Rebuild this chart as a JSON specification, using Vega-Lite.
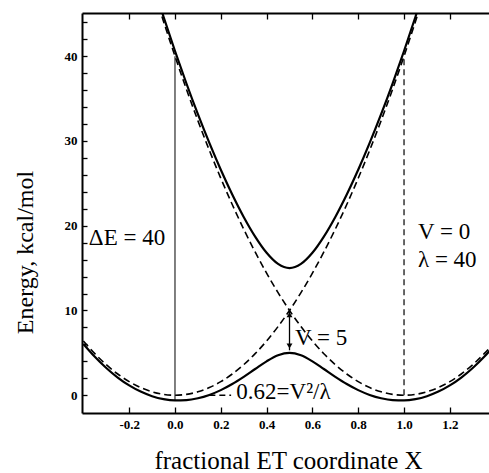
{
  "$schema": "https://vega.github.io/schema/vega-lite/v6.json",
  "width": 407,
  "height": 400,
  "autosize": {"type": "none"},
  "padding": {"left": 82, "top": 13, "right": 0, "bottom": 60},
  "background": "white",
  "config": {
    "view": {"stroke": null},
    "axis": {
      "grid": false,
      "labelFont": "Liberation Serif",
      "labelFontWeight": "bold",
      "labelFontSize": 13,
      "labelColor": "black",
      "domainColor": "black",
      "domainWidth": 2,
      "tickColor": "black",
      "tickWidth": 1.3,
      "titleFont": "Liberation Serif",
      "titleFontWeight": "normal",
      "titleColor": "black"
    }
  },
  "datasets": {
    "curves": [
      {"curve": "lower", "kind": "adiabatic", "x": -0.4, "y": 6.054},
      {"curve": "lower", "kind": "adiabatic", "x": -0.35, "y": 4.534},
      {"curve": "lower", "kind": "adiabatic", "x": -0.3, "y": 3.212},
      {"curve": "lower", "kind": "adiabatic", "x": -0.25, "y": 2.086},
      {"curve": "lower", "kind": "adiabatic", "x": -0.2, "y": 1.157},
      {"curve": "lower", "kind": "adiabatic", "x": -0.15, "y": 0.424},
      {"curve": "lower", "kind": "adiabatic", "x": -0.1, "y": -0.115},
      {"curve": "lower", "kind": "adiabatic", "x": -0.05, "y": -0.461},
      {"curve": "lower", "kind": "adiabatic", "x": 0, "y": -0.616},
      {"curve": "lower", "kind": "adiabatic", "x": 0.05, "y": -0.582},
      {"curve": "lower", "kind": "adiabatic", "x": 0.1, "y": -0.363},
      {"curve": "lower", "kind": "adiabatic", "x": 0.15, "y": 0.034},
      {"curve": "lower", "kind": "adiabatic", "x": 0.2, "y": 0.6},
      {"curve": "lower", "kind": "adiabatic", "x": 0.25, "y": 1.32},
      {"curve": "lower", "kind": "adiabatic", "x": 0.3, "y": 2.166},
      {"curve": "lower", "kind": "adiabatic", "x": 0.35, "y": 3.09},
      {"curve": "lower", "kind": "adiabatic", "x": 0.4, "y": 3.997},
      {"curve": "lower", "kind": "adiabatic", "x": 0.45, "y": 4.715},
      {"curve": "lower", "kind": "adiabatic", "x": 0.5, "y": 5},
      {"curve": "lower", "kind": "adiabatic", "x": 0.55, "y": 4.715},
      {"curve": "lower", "kind": "adiabatic", "x": 0.6, "y": 3.997},
      {"curve": "lower", "kind": "adiabatic", "x": 0.65, "y": 3.09},
      {"curve": "lower", "kind": "adiabatic", "x": 0.7, "y": 2.166},
      {"curve": "lower", "kind": "adiabatic", "x": 0.75, "y": 1.32},
      {"curve": "lower", "kind": "adiabatic", "x": 0.8, "y": 0.6},
      {"curve": "lower", "kind": "adiabatic", "x": 0.85, "y": 0.034},
      {"curve": "lower", "kind": "adiabatic", "x": 0.9, "y": -0.363},
      {"curve": "lower", "kind": "adiabatic", "x": 0.95, "y": -0.582},
      {"curve": "lower", "kind": "adiabatic", "x": 1, "y": -0.616},
      {"curve": "lower", "kind": "adiabatic", "x": 1.05, "y": -0.461},
      {"curve": "lower", "kind": "adiabatic", "x": 1.1, "y": -0.115},
      {"curve": "lower", "kind": "adiabatic", "x": 1.15, "y": 0.424},
      {"curve": "lower", "kind": "adiabatic", "x": 1.2, "y": 1.157},
      {"curve": "lower", "kind": "adiabatic", "x": 1.25, "y": 2.086},
      {"curve": "lower", "kind": "adiabatic", "x": 1.3, "y": 3.212},
      {"curve": "lower", "kind": "adiabatic", "x": 1.35, "y": 4.534},
      {"curve": "lower", "kind": "adiabatic", "x": 1.4, "y": 6.054},
      {"curve": "upper", "kind": "adiabatic", "x": -0.15, "y": 53.38},
      {"curve": "upper", "kind": "adiabatic", "x": -0.1, "y": 48.92},
      {"curve": "upper", "kind": "adiabatic", "x": -0.05, "y": 44.66},
      {"curve": "upper", "kind": "adiabatic", "x": 0, "y": 40.616},
      {"curve": "upper", "kind": "adiabatic", "x": 0.05, "y": 36.78},
      {"curve": "upper", "kind": "adiabatic", "x": 0.1, "y": 33.16},
      {"curve": "upper", "kind": "adiabatic", "x": 0.15, "y": 29.77},
      {"curve": "upper", "kind": "adiabatic", "x": 0.2, "y": 26.6},
      {"curve": "upper", "kind": "adiabatic", "x": 0.25, "y": 23.68},
      {"curve": "upper", "kind": "adiabatic", "x": 0.3, "y": 21.03},
      {"curve": "upper", "kind": "adiabatic", "x": 0.35, "y": 18.71},
      {"curve": "upper", "kind": "adiabatic", "x": 0.4, "y": 16.8},
      {"curve": "upper", "kind": "adiabatic", "x": 0.45, "y": 15.49},
      {"curve": "upper", "kind": "adiabatic", "x": 0.5, "y": 15},
      {"curve": "upper", "kind": "adiabatic", "x": 0.55, "y": 15.49},
      {"curve": "upper", "kind": "adiabatic", "x": 0.6, "y": 16.8},
      {"curve": "upper", "kind": "adiabatic", "x": 0.65, "y": 18.71},
      {"curve": "upper", "kind": "adiabatic", "x": 0.7, "y": 21.03},
      {"curve": "upper", "kind": "adiabatic", "x": 0.75, "y": 23.68},
      {"curve": "upper", "kind": "adiabatic", "x": 0.8, "y": 26.6},
      {"curve": "upper", "kind": "adiabatic", "x": 0.85, "y": 29.77},
      {"curve": "upper", "kind": "adiabatic", "x": 0.9, "y": 33.16},
      {"curve": "upper", "kind": "adiabatic", "x": 0.95, "y": 36.78},
      {"curve": "upper", "kind": "adiabatic", "x": 1, "y": 40.616},
      {"curve": "upper", "kind": "adiabatic", "x": 1.05, "y": 44.66},
      {"curve": "upper", "kind": "adiabatic", "x": 1.1, "y": 48.92},
      {"curve": "upper", "kind": "adiabatic", "x": 1.15, "y": 53.38},
      {"curve": "reactant", "kind": "diabatic", "x": -0.4, "y": 6.4},
      {"curve": "reactant", "kind": "diabatic", "x": -0.35, "y": 4.9},
      {"curve": "reactant", "kind": "diabatic", "x": -0.3, "y": 3.6},
      {"curve": "reactant", "kind": "diabatic", "x": -0.25, "y": 2.5},
      {"curve": "reactant", "kind": "diabatic", "x": -0.2, "y": 1.6},
      {"curve": "reactant", "kind": "diabatic", "x": -0.15, "y": 0.9},
      {"curve": "reactant", "kind": "diabatic", "x": -0.1, "y": 0.4},
      {"curve": "reactant", "kind": "diabatic", "x": -0.05, "y": 0.1},
      {"curve": "reactant", "kind": "diabatic", "x": 0, "y": 0},
      {"curve": "reactant", "kind": "diabatic", "x": 0.05, "y": 0.1},
      {"curve": "reactant", "kind": "diabatic", "x": 0.1, "y": 0.4},
      {"curve": "reactant", "kind": "diabatic", "x": 0.15, "y": 0.9},
      {"curve": "reactant", "kind": "diabatic", "x": 0.2, "y": 1.6},
      {"curve": "reactant", "kind": "diabatic", "x": 0.25, "y": 2.5},
      {"curve": "reactant", "kind": "diabatic", "x": 0.3, "y": 3.6},
      {"curve": "reactant", "kind": "diabatic", "x": 0.35, "y": 4.9},
      {"curve": "reactant", "kind": "diabatic", "x": 0.4, "y": 6.4},
      {"curve": "reactant", "kind": "diabatic", "x": 0.45, "y": 8.1},
      {"curve": "reactant", "kind": "diabatic", "x": 0.5, "y": 10},
      {"curve": "reactant", "kind": "diabatic", "x": 0.55, "y": 12.1},
      {"curve": "reactant", "kind": "diabatic", "x": 0.6, "y": 14.4},
      {"curve": "reactant", "kind": "diabatic", "x": 0.65, "y": 16.9},
      {"curve": "reactant", "kind": "diabatic", "x": 0.7, "y": 19.6},
      {"curve": "reactant", "kind": "diabatic", "x": 0.75, "y": 22.5},
      {"curve": "reactant", "kind": "diabatic", "x": 0.8, "y": 25.6},
      {"curve": "reactant", "kind": "diabatic", "x": 0.85, "y": 28.9},
      {"curve": "reactant", "kind": "diabatic", "x": 0.9, "y": 32.4},
      {"curve": "reactant", "kind": "diabatic", "x": 0.95, "y": 36.1},
      {"curve": "reactant", "kind": "diabatic", "x": 1, "y": 40},
      {"curve": "reactant", "kind": "diabatic", "x": 1.05, "y": 44.1},
      {"curve": "reactant", "kind": "diabatic", "x": 1.1, "y": 48.4},
      {"curve": "product", "kind": "diabatic", "x": -0.1, "y": 48.4},
      {"curve": "product", "kind": "diabatic", "x": -0.05, "y": 44.1},
      {"curve": "product", "kind": "diabatic", "x": 0, "y": 40},
      {"curve": "product", "kind": "diabatic", "x": 0.05, "y": 36.1},
      {"curve": "product", "kind": "diabatic", "x": 0.1, "y": 32.4},
      {"curve": "product", "kind": "diabatic", "x": 0.15, "y": 28.9},
      {"curve": "product", "kind": "diabatic", "x": 0.2, "y": 25.6},
      {"curve": "product", "kind": "diabatic", "x": 0.25, "y": 22.5},
      {"curve": "product", "kind": "diabatic", "x": 0.3, "y": 19.6},
      {"curve": "product", "kind": "diabatic", "x": 0.35, "y": 16.9},
      {"curve": "product", "kind": "diabatic", "x": 0.4, "y": 14.4},
      {"curve": "product", "kind": "diabatic", "x": 0.45, "y": 12.1},
      {"curve": "product", "kind": "diabatic", "x": 0.5, "y": 10},
      {"curve": "product", "kind": "diabatic", "x": 0.55, "y": 8.1},
      {"curve": "product", "kind": "diabatic", "x": 0.6, "y": 6.4},
      {"curve": "product", "kind": "diabatic", "x": 0.65, "y": 4.9},
      {"curve": "product", "kind": "diabatic", "x": 0.7, "y": 3.6},
      {"curve": "product", "kind": "diabatic", "x": 0.75, "y": 2.5},
      {"curve": "product", "kind": "diabatic", "x": 0.8, "y": 1.6},
      {"curve": "product", "kind": "diabatic", "x": 0.85, "y": 0.9},
      {"curve": "product", "kind": "diabatic", "x": 0.9, "y": 0.4},
      {"curve": "product", "kind": "diabatic", "x": 0.95, "y": 0.1},
      {"curve": "product", "kind": "diabatic", "x": 1, "y": 0},
      {"curve": "product", "kind": "diabatic", "x": 1.05, "y": 0.1},
      {"curve": "product", "kind": "diabatic", "x": 1.1, "y": 0.4},
      {"curve": "product", "kind": "diabatic", "x": 1.15, "y": 0.9},
      {"curve": "product", "kind": "diabatic", "x": 1.2, "y": 1.6},
      {"curve": "product", "kind": "diabatic", "x": 1.25, "y": 2.5},
      {"curve": "product", "kind": "diabatic", "x": 1.3, "y": 3.6},
      {"curve": "product", "kind": "diabatic", "x": 1.35, "y": 4.9},
      {"curve": "product", "kind": "diabatic", "x": 1.4, "y": 6.4}
    ]
  },
  "resolve": {"axis": {"x": "independent", "y": "independent"}},
  "layer": [
    {
      "data": {"name": "curves"},
      "transform": [{"filter": "datum.kind === 'diabatic'"}],
      "mark": {"type": "line", "clip": true, "interpolate": "monotone", "color": "black", "strokeWidth": 1.6, "strokeDash": [7, 4]},
      "encoding": {
        "x": {"field": "x", "type": "quantitative",
          "scale": {"domain": [-0.406, 1.371], "nice": false, "zero": false},
          "axis": {"orient": "bottom", "values": [-0.2, 0, 0.2, 0.4, 0.6, 0.8, 1.0, 1.2],
            "labelExpr": "replace(format(datum.value, '.1f'), '\u2212', '-')",
            "tickSize": -6, "labelPadding": 11,
            "title": "fractional ET coordinate X", "titleFontSize": 25,
            "titleX": 206, "titleY": 47, "titleBaseline": "middle", "titleAnchor": null}},
        "y": {"field": "y", "type": "quantitative",
          "scale": {"domain": [-2.1, 45.1], "nice": false, "zero": false},
          "axis": {"orient": "left", "values": [0, 2, 4, 6, 8, 10, 12, 14, 16, 18, 20, 22, 24, 26, 28, 30, 32, 34, 36, 38, 40, 42, 44],
            "labelExpr": "datum.value % 10 === 0 ? datum.label : ''",
            "tickSize": -5, "labelPadding": 10,
            "title": "Energy, kcal/mol", "titleFontSize": 24,
            "titleX": -57, "titleY": 239, "titleBaseline": "middle", "titleAnchor": null}},
        "detail": {"field": "curve"}
      }
    },
    {
      "data": {"name": "curves"},
      "transform": [{"filter": "datum.kind === 'adiabatic'"}],
      "mark": {"type": "line", "clip": true, "interpolate": "monotone", "color": "black", "strokeWidth": 2.2},
      "encoding": {
        "x": {"field": "x", "type": "quantitative", "axis": null},
        "y": {"field": "y", "type": "quantitative", "axis": null},
        "detail": {"field": "curve"}
      }
    },
    {
      "data": {"values": [{"x": 0, "y": -0.616, "y2": 40}]},
      "mark": {"type": "rule", "color": "black", "strokeWidth": 1},
      "encoding": {
        "x": {"field": "x", "type": "quantitative",
          "axis": {"orient": "top", "values": [-0.2, 0, 0.2, 0.4, 0.6, 0.8, 1.0, 1.2], "labels": false, "tickSize": -6, "title": null}},
        "y": {"field": "y", "type": "quantitative", "axis": null},
        "y2": {"field": "y2"}
      }
    },
    {
      "data": {"values": [{"x": 1, "y": 0, "y2": 40}]},
      "mark": {"type": "rule", "color": "black", "strokeWidth": 1.2, "strokeDash": [6, 4]},
      "encoding": {
        "x": {"field": "x", "type": "quantitative", "axis": null},
        "y": {"field": "y", "type": "quantitative", "axis": null},
        "y2": {"field": "y2"}
      }
    },
    {
      "data": {"values": [{"x": 0.15, "x2": 0.245, "y": 0}]},
      "mark": {"type": "rule", "color": "black", "strokeWidth": 1.5, "strokeDash": [6, 4]},
      "encoding": {
        "x": {"field": "x", "type": "quantitative", "axis": null},
        "x2": {"field": "x2"},
        "y": {"field": "y", "type": "quantitative", "axis": null}
      }
    },
    {
      "data": {"values": [{"x": 0.5, "y": 5.3, "y2": 10}]},
      "mark": {"type": "rule", "color": "black", "strokeWidth": 1.3},
      "encoding": {
        "x": {"field": "x", "type": "quantitative", "axis": null},
        "y": {"field": "y", "type": "quantitative", "axis": null},
        "y2": {"field": "y2"}
      }
    },
    {
      "data": {"values": [{"x": 0.5, "y": 9.5, "end": "top"}, {"x": 0.5, "y": 5.8, "end": "bottom"}]},
      "mark": {"type": "point", "filled": true, "color": "black", "opacity": 1, "size": 35},
      "encoding": {
        "x": {"field": "x", "type": "quantitative", "axis": null},
        "y": {"field": "y", "type": "quantitative", "axis": null},
        "shape": {"field": "end", "type": "nominal", "legend": null,
          "scale": {"domain": ["top", "bottom"], "range": ["triangle-up", "triangle-down"]}}
      }
    },
    {
      "data": {"values": [
        {"x": -0.376, "y": 18.6, "label": "\u0394E = 40"},
        {"x": 1.061, "y": 19.3, "label": "V = 0"},
        {"x": 1.061, "y": 15.9, "label": "\u03bb = 40"},
        {"x": 0.524, "y": 6.8, "label": "V = 5"},
        {"x": 0.268, "y": 0.35, "label": "0.62=V\u00b2/\u03bb"}
      ]},
      "mark": {"type": "text", "align": "left", "baseline": "middle", "font": "Liberation Serif", "fontSize": 23, "color": "black"},
      "encoding": {
        "x": {"field": "x", "type": "quantitative", "axis": null},
        "y": {"field": "y", "type": "quantitative", "axis": null},
        "text": {"field": "label"}
      }
    }
  ]
}
